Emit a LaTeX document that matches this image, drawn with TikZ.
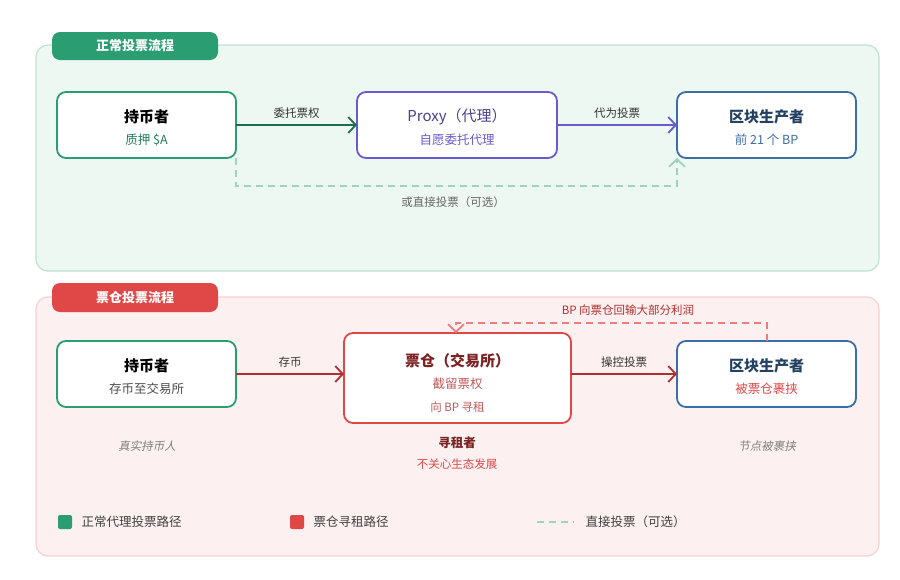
\documentclass[tikz,border=0pt]{standalone}
\usepackage{fontspec}
\setmainfont{Noto Sans CJK SC}
\newfontfamily\slantcjk[FakeSlant=0.2]{Noto Sans CJK SC}
\usetikzlibrary{arrows.meta,positioning,calc}
\definecolor{grn}{HTML}{2A9D72}
\definecolor{dgrn}{HTML}{1E6B50}
\definecolor{prp}{HTML}{6A5ACD}
\definecolor{blu}{HTML}{3A6EA5}
\definecolor{rd}{HTML}{E04848}
\definecolor{drd}{HTML}{B03030}
\definecolor{gbg}{HTML}{EEF8F3}
\definecolor{rbg}{HTML}{FCF0F0}
\begin{document}
\begin{tikzpicture}[x=1pt, y=-1pt, > = {Straight Barb[length=7.5pt,width=16pt,line width=1.8pt]}, auto]
            % Estilos
            \tikzstyle{box}=[rounded corners=9pt, draw, line width=1.8pt, fill=white]
            \tikzstyle{tag}=[rounded corners=8pt, text=white, font=\bfseries\fontsize{13}{14}\selectfont]
            \tikzstyle{lbl}=[font=\fontsize{11.5}{13}\selectfont]
            \tikzstyle{ttl}=[font=\bfseries\fontsize{15}{17}\selectfont]
            \tikzstyle{sub}=[font=\fontsize{12.5}{14}\selectfont]
            \tikzstyle{dsh}=[dash pattern=on 7pt off 5pt, line width=1.6pt]
            \tikzstyle{note}=[text=black!50, font=\slantcjk\fontsize{11.5}{13}\selectfont]
            \useasboundingbox (0,0) rectangle (900,579);
            \fill[white] (0,0) rectangle (900,579);

            % Painel superior
            \draw[rounded corners=12pt, fill=gbg, draw=grn!30, line width=1.2pt] (36,45) rectangle (879,271);
            \fill[tag, fill=grn] (52,32) rectangle (218,60);
            \node[tag] (tagA) at (135,46) {正常投票流程};

            \draw[box, draw=grn] (57,92) rectangle (236,158);
            \node[ttl] (h1) at (146.5,117) {持币者};
            \node[sub, text=grn!80!black] (h1s) at (146.5,140) {质押 \$A};
            \coordinate (h1r) at (236,125); \coordinate (h1b) at (236,158);

            \draw[box, draw=prp] (357,92) rectangle (557,158);
            \node[ttl, text=prp!70!black, font=\fontsize{15}{17}\selectfont] (p) at (457,117) {Proxy（代理）};
            \node[sub, text=prp] (ps) at (457,140) {自愿委托代理};
            \coordinate (pl) at (357,125); \coordinate (pr) at (557,125);

            \draw[box, draw=blu] (677,92) rectangle (856,158);
            \node[ttl, text=blu!60!black] (b1) at (766.5,117) {区块生产者};
            \node[sub, text=blu] (b1s) at (766.5,140) {前 21 个 BP};
            \coordinate (b1l) at (677,125); \coordinate (b1b) at (677,158);

            \draw[->, line width=1.8pt, dgrn] (h1r) -- node[lbl, text=black!80, above=2pt] {委托票权} (pl);
            \draw[->, line width=1.8pt, prp] (pr) -- node[lbl, text=black!80, above=2pt] {代为投票} (b1l);
            \draw[->, dsh, grn!45] (h1b) |- (457,186) -| (b1b);
            \node[lbl, text=black!60] (dl) at (453,202) {或直接投票（可选）};

            % Painel inferior
            \draw[rounded corners=12pt, fill=rbg, draw=rd!25, line width=1.2pt] (36,297) rectangle (879,556);
            \fill[tag, fill=rd] (52,283) rectangle (218,312);
            \node[tag] (tagB) at (135,297.5) {票仓投票流程};

            \draw[box, draw=grn] (57,341) rectangle (236,407);
            \node[ttl] (h2) at (146.5,366) {持币者};
            \node[sub, text=black!70] (h2s) at (146.5,389) {存币至交易所};
            \coordinate (h2r) at (236,374);

            \draw[box, draw=rd] (344,333) rectangle (571,423);
            \node[ttl, text=drd!70!black] (e) at (457.5,361) {票仓（交易所）};
            \node[sub, text=drd!80] (es) at (457.5,384) {截留票权};
            \node[lbl, text=drd!80] (es2) at (457.5,407) {向 BP 寻租};
            \coordinate (el) at (344,374); \coordinate (er) at (571,374); \coordinate (et) at (456,333);

            \draw[box, draw=blu] (677,341) rectangle (856,407);
            \node[ttl, text=blu!60!black] (b2) at (766.5,366) {区块生产者};
            \node[sub, text=rd] (b2s) at (766.5,389) {被票仓裹挟};
            \coordinate (b2l) at (677,374); \coordinate (b2t) at (767,341);

            \draw[->, line width=1.8pt, drd] (h2r) -- node[lbl, text=black!80, above=2pt] {存币} (el);
            \draw[->, line width=1.8pt, drd] (er) -- node[lbl, text=black!80, above=2pt] {操控投票} (b2l);
            \draw[->, dsh, rd!70] (b2t) |- (600,323) -| (et);
            \node[lbl, text=drd] (bl) at (628,310) {BP 向票仓回输大部分利润};

            \node[note] (n1) at (147,446) {真实持币人};
            \node[note] (n2) at (767,446) {节点被裹挟};
            \node[font=\bfseries\fontsize{12.5}{14}\selectfont, text=drd!70!black] (rs) at (457,443) {寻租者};
            \node[lbl, text=rd] (rs2) at (457,464) {不关心生态发展};

            % Legenda
            \fill[grn, rounded corners=2pt] (58,515) rectangle (72,529);
            \node[sub, anchor=west, text=black!75] (l1) at (78,522) {正常代理投票路径};
            \fill[rd, rounded corners=2pt] (290,515) rectangle (304,529);
            \node[sub, anchor=west, text=black!75] (l2) at (310,522) {票仓寻租路径};
            \draw[dsh, grn!45] (537,522) -- (574,522);
            \node[sub, anchor=west, text=black!75] (l3) at (582,522) {直接投票（可选）};
        \end{tikzpicture}
\end{document}
